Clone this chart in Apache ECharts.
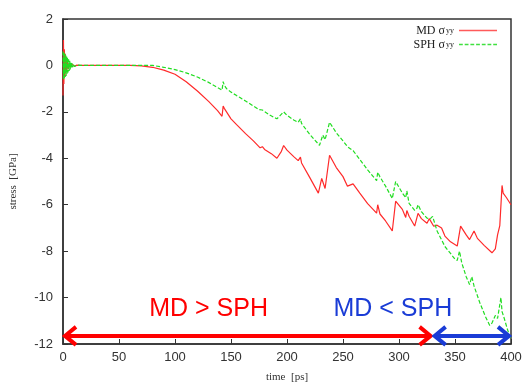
<!DOCTYPE html>
<html>
<head>
<meta charset="utf-8">
<script src="https://cdn.jsdelivr.net/npm/echarts@6/dist/echarts.min.js"></script>
<style>html,body{margin:0;padding:0;background:#fff}#c{width:526px;height:388px}</style>
</head>
<body>
<div id="c"></div>
<script>
// time [ps], stress [GPa]
const mdData = [
 [0,-1.3],[0.4,1.1],[0.8,-0.8],[1.2,0.7],[1.6,-0.5],[2.0,0.5],[2.5,-0.35],[3,0.3],[3.5,-0.25],[4,0.2],[5,-0.15],[6,0.1],[7,-0.07],[8,0.05],[10,-0.03],[12,0.01],[15,0],
 [60,0],[70,-0.02],[80,-0.08],[90,-0.2],[100,-0.38],[110,-0.7],[120,-1.1],[130,-1.55],[138,-1.95],[142,-2.19],[143,-1.75],[144,-1.85],[146,-2.0],[150,-2.3],[155,-2.55],[163,-2.94],[170,-3.25],[176,-3.55],[178,-3.5],[180,-3.62],[186,-3.8],[191,-4.0],[195,-3.7],[197,-3.45],[200,-3.65],[206,-3.93],[210,-4.1],[212,-3.95],[213,-4.2],[220,-4.8],[228,-5.5],[231,-4.87],[234,-5.3],[238,-3.87],[244,-4.4],[250,-4.79],[254,-5.2],[259,-5.1],[265,-5.5],[272,-5.95],[280,-6.36],[281,-6.0],[283,-6.4],[288,-6.7],[294,-7.13],[297,-5.85],[303,-6.2],[306,-6.55],[307,-6.25],[309,-6.5],[314,-6.92],[317,-6.37],[320,-6.6],[325,-6.8],[327,-6.6],[331,-6.93],[334,-6.88],[338,-7.0],[341,-7.35],[346,-7.6],[352,-7.78],[355,-6.92],[360,-7.3],[363,-7.5],[367,-7.13],[370,-7.45],[376,-7.75],[383,-8.07],[386,-7.9],[388,-7.3],[390,-6.9],[392,-5.17],[393,-5.5],[396,-5.7],[400,-6.0]
];
const sphData = [
 [0,0.6],[0.4,-0.6],[0.8,0.55],[1.2,-0.55],[1.6,0.5],[2,-0.5],[2.4,0.45],[2.8,-0.45],[3.2,0.4],[3.6,-0.4],[4,0.35],[4.5,-0.3],[5,0.27],[5.5,-0.24],[6,0.2],[6.5,-0.17],[7,0.14],[7.5,-0.12],[8,0.1],[8.5,-0.08],[9,0.06],[10,-0.04],[11,0.03],[12,-0.02],[14,0.01],[16,0],
 [80,0],[90,-0.08],[100,-0.18],[110,-0.32],[120,-0.5],[130,-0.73],[138,-0.95],[142,-1.06],[143,-0.7],[144,-0.85],[146,-1.0],[150,-1.15],[155,-1.3],[158,-1.38],[159,-1.3],[160,-1.45],[163,-1.53],[170,-1.75],[175,-1.9],[178,-1.92],[179,-2.0],[185,-2.15],[191,-2.3],[194,-2.15],[197,-2.0],[200,-2.15],[206,-2.35],[210,-2.45],[212,-2.3],[213,-2.5],[220,-2.95],[229,-3.44],[232,-3.0],[234,-3.2],[238,-2.45],[244,-2.9],[250,-3.25],[254,-3.5],[259,-3.67],[265,-4.05],[272,-4.5],[280,-4.96],[281,-4.6],[283,-4.8],[288,-5.2],[294,-5.73],[297,-5.0],[303,-5.5],[306,-5.7],[307,-5.4],[309,-5.94],[314,-6.24],[316,-6.15],[317,-6.0],[320,-6.3],[325,-6.58],[328,-6.6],[330,-6.5],[334,-7.13],[341,-7.8],[346,-8.1],[350,-8.35],[352,-8.4],[354,-8.0],[356,-8.5],[360,-9.1],[363,-9.44],[365,-9.1],[367,-9.5],[372,-10.2],[377,-10.8],[381,-11.2],[383,-11.1],[386,-10.77],[388,-10.9],[390,-10.3],[391,-10.0],[392,-10.6],[394,-10.9],[397,-11.4],[400,-11.8]
];
const seriesNames = ['MD', 'SPH'];
const xTicks = [0, 50, 100, 150, 200, 250, 300, 350, 400];
const yTicks = [-12, -10, -8, -6, -4, -2, 0, 2];
// annotation ranges: [from t, to t, at stress]
const redRange = [0, 330, -11.65];
const blueRange = [330, 400, -11.65];
const annoLabels = [
 {text: 'MD > SPH', t: 130, v: -10.5, color: '#ff0000'},
 {text: 'MD < SPH', t: 294.5, v: -10.5, color: '#1a3cd6'}
];

const chart = echarts.init(document.getElementById('c'), null, {renderer: 'canvas'});
const serif = '"Liberation Serif","DejaVu Serif",serif';
const sans = '"Liberation Sans",Arial,sans-serif';
const solidIcon = 'path://M0,0H38V1.5H0Z';
let dashPath = 'path://';
for (let x = 0; x < 38; x += 6) dashPath += 'M' + x + ',0h4v1.5h-4Z';
chart.setOption({
  animation: false,
  backgroundColor: '#fff',
  grid: {left: 62, right: 15, top: 19, bottom: 41, show: true, borderColor: '#333', borderWidth: 1.5, backgroundColor: 'transparent'},
  legend: {
    orient: 'vertical', right: 29, top: 24, align: 'right', itemWidth: 38, itemHeight: 1.5, itemGap: 1, padding: 0,
    data: [
      {name: seriesNames[0], icon: solidIcon, itemStyle: {color: '#ff5a5a', opacity: 1}},
      {name: seriesNames[1], icon: dashPath, itemStyle: {color: '#40e040', opacity: 1}}
    ],
    formatter: n => '{n|' + n + ' σ}{y|yy}',
    textStyle: {fontFamily: serif, fontSize: 12, color: '#222', lineHeight: 13,
      rich: {n: {fontFamily: serif, fontSize: 12, color: '#222', lineHeight: 13}, y: {fontFamily: serif, fontSize: 8, color: '#222', padding: [0,0,0,1], lineHeight: 13}}}
  },
  xAxis: {
    type: 'value', min: xTicks[0], max: xTicks[xTicks.length-1], interval: 50,
    name: 'time  [ps]', nameLocation: 'middle', nameGap: 28,
    nameTextStyle: {fontFamily: serif, fontSize: 11, color: '#333'},
    axisLine: {onZero: false, lineStyle: {color: '#333', width: 1.5}},
    axisTick: {inside: true, length: 5, lineStyle: {color: '#333'}},
    axisLabel: {fontFamily: sans, fontSize: 13, color: '#333', margin: 7},
    splitLine: {show: false}
  },
  yAxis: {
    type: 'value', min: yTicks[0], max: yTicks[yTicks.length-1], interval: 2,
    name: 'stress  [GPa]', nameLocation: 'middle', nameGap: 44,
    nameTextStyle: {fontFamily: serif, fontSize: 11, color: '#333'},
    axisLine: {onZero: false, lineStyle: {color: '#333', width: 1.5}},
    axisTick: {inside: true, length: 5, lineStyle: {color: '#333'}},
    axisLabel: {fontFamily: sans, fontSize: 13, color: '#333', margin: 10},
    splitLine: {show: false}
  },
  series: [
    {name: seriesNames[0], type: 'line', data: mdData, symbol: 'none', showSymbol: false, lineStyle: {color: '#ff2a2a', width: 1.2}, itemStyle: {color: '#ff5050'}, z: 2},
    {name: seriesNames[1], type: 'line', data: sphData, symbol: 'none', showSymbol: false, lineStyle: {color: '#22dd22', width: 1.2, type: [4, 2]}, itemStyle: {color: '#44e044'}, z: 3}
  ]
});

function arrowGraphics(range, color) {
  const a = chart.convertToPixel({gridIndex: 0}, [range[0], range[2]]);
  const b = chart.convertToPixel({gridIndex: 0}, [range[1], range[2]]);
  const w = 4, hx = 11, hy = 9;
  const st = {stroke: color, lineWidth: w, fill: null, lineJoin: 'miter', lineCap: 'butt'};
  return [
    {type: 'polyline', shape: {points: [[a[0]+2, a[1]], [b[0]-2, b[1]]]}, style: st, z: 10},
    {type: 'polyline', shape: {points: [[a[0]+hx+2, a[1]-hy], [a[0]+2, a[1]], [a[0]+hx+2, a[1]+hy]]}, style: st, z: 10},
    {type: 'polyline', shape: {points: [[b[0]-hx-2, b[1]-hy], [b[0]-2, b[1]], [b[0]-hx-2, b[1]+hy]]}, style: st, z: 10}
  ];
}
const g = [].concat(arrowGraphics(redRange, '#ff0000'), arrowGraphics(blueRange, '#1a3cd6'));
annoLabels.forEach(l => {
  const p = chart.convertToPixel({gridIndex: 0}, [l.t, l.v]);
  g.push({type: 'text', x: p[0], y: p[1], z: 10,
    style: {text: l.text, fill: l.color, font: '25px ' + sans, textAlign: 'center', textVerticalAlign: 'middle'}});
});
chart.setOption({graphic: g});
</script>
</body>
</html>
